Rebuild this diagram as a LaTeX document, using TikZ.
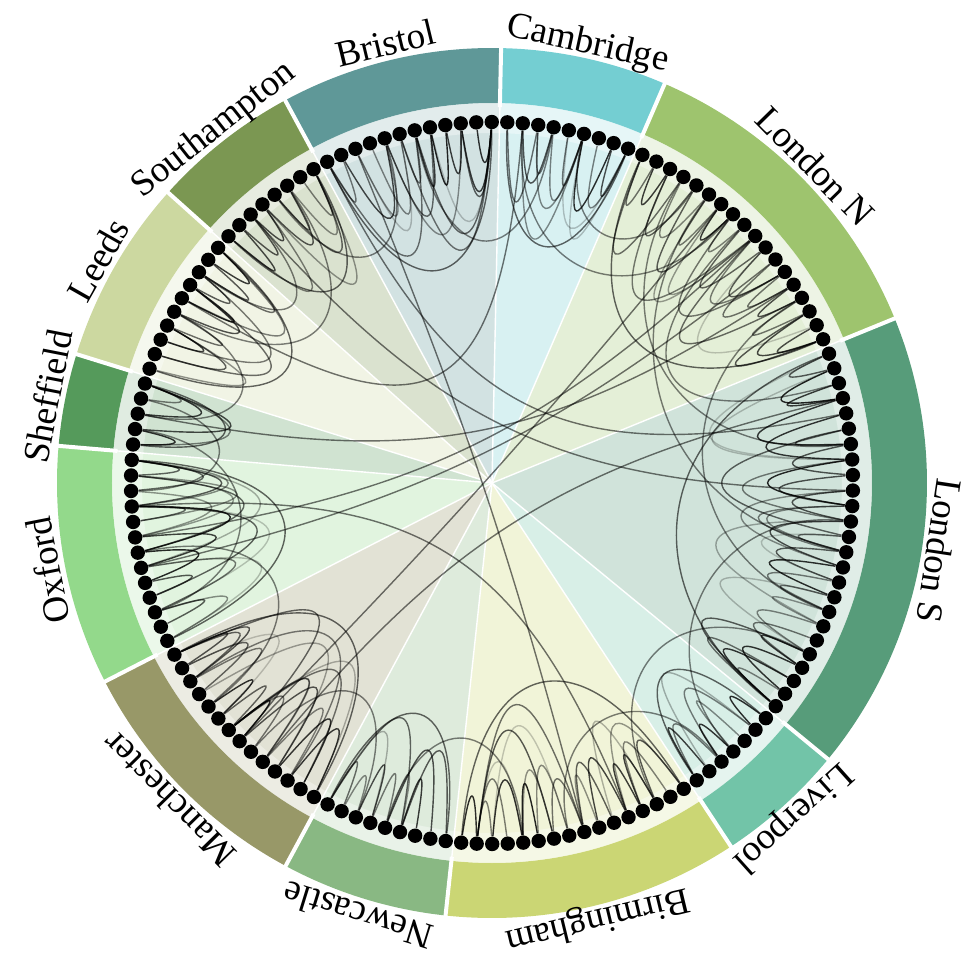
\documentclass[tikz,border=0pt]{standalone}
\usepackage{fontspec}
\setmainfont{Liberation Serif}
\usetikzlibrary{calc}

\definecolor{cambridge}{HTML}{74CED2}
\definecolor{londonN}{HTML}{9EC46E}
\definecolor{londonS}{HTML}{579C7A}
\definecolor{liverpool}{HTML}{72C4A8}
\definecolor{birmingham}{HTML}{CBD674}
\definecolor{newcastle}{HTML}{89B883}
\definecolor{manchester}{HTML}{989868}
\definecolor{oxford}{HTML}{93D98B}
\definecolor{sheffield}{HTML}{559A5B}
\definecolor{leeds}{HTML}{CCD8A0}
\definecolor{southampton}{HTML}{7B9752}
\definecolor{bristol}{HTML}{5F9898}

\begin{document}
\begin{tikzpicture}[x=0.5pt,y=0.5pt]
\tikzstyle{every node}+=[inner sep=0pt]
\tikzstyle{dot}=[circle,fill=black,minimum size=7.2pt]
\tikzstyle{edge}=[black,line width=0.7pt]
\tikzstyle{city}=[anchor=base,font=\fontsize{18.5}{20}\selectfont]
\useasboundingbox (-492,-477) rectangle (473,483);
\coordinate (ctr) at (0,0);
\pgfmathsetmacro{\stp}{360/146}
\foreach \s/\n/\col in {0/9/cambridge,9/18/londonN,27/25/londonS,52/7/liverpool,59/16/birmingham,75/9/newcastle,84/14/manchester,98/13/oxford,111/5/sheffield,116/10/leeds,126/8/southampton,134/12/bristol} {
\pgfmathsetmacro{\ta}{88.8-\s*\stp}
\pgfmathsetmacro{\tb}{\ta-\n*\stp}
\fill [\col,opacity=0.28] (ctr) -- (\ta:380) arc[start angle=\ta,end angle=\tb,radius=380] -- cycle;
\fill [\col] (\ta:380) arc[start angle=\ta,end angle=\tb,radius=380] -- (\tb:435) arc[start angle=\tb,end angle=\ta,radius=435] -- cycle;
}
\fill [white,opacity=0.35,even odd rule] (ctr) circle[radius=380] (ctr) circle[radius=350];
\foreach \k in {0,9,27,52,59,75,84,98,111,116,126,134} {
\pgfmathsetmacro{\ta}{88.8-\k*\stp}
\draw [white,line width=0.7pt] (ctr) -- (\ta:380);
\draw [white,line width=2pt] (\ta:376) -- (\ta:438);
}
\foreach \m/\nm/\txt in {12.30/cam/Cambridge,45.58/lnn/London N,98.60/lns/London S,138.05/liv/Liverpool,166.41/bir/Birmingham,197.23/new/Newcastle,225.58/man/Manchester,258.87/oxf/Oxford,281.06/she/Sheffield,299.56/lee/Leeds,321.75/sou/Southampton,346.41/bri/Bristol}
\node [city,rotate=-\m] (l\nm) at ({90-\m}:440) {\txt};
\foreach \k in {0,...,145} \node [dot] (d\k) at ({88.8-(\k+0.5)*\stp}:361) {};
\pgfmathsetseed{11}
\foreach \s/\n in {0/9,9/18,27/25,52/7,59/16,75/9,84/14,98/13,111/5,116/10,126/8,134/12} {
\pgfmathtruncatemacro{\e}{\s+\n-1}
\foreach \i in {\s,...,\e} {
\pgfmathtruncatemacro{\jj}{min(\i+1+int(2.6*rnd),\e)}
\pgfmathsetmacro{\f}{1-(26+24*(\jj-\i)+30*rnd)/361}
\pgfmathsetmacro{\op}{0.4+0.45*rnd}
\ifnum\jj>\i\relax
\coordinate (pa) at ($(d\i)!0.3!(d\jj)$);
\coordinate (pb) at ($(d\jj)!0.3!(d\i)$);
\draw [edge,draw opacity=\op] (d\i) .. controls ($(ctr)!\f!(pa)$) and ($(ctr)!\f!(pb)$) .. (d\jj);
\fi
}
\foreach \i in {\s,...,\e} {
\pgfmathtruncatemacro{\jj}{min(\i+3+int(5*rnd),\e)}
\pgfmathsetmacro{\f}{1-min(55+15*(\jj-\i)+40*rnd,190)/361}
\pgfmathsetmacro{\op}{0.2+0.45*rnd}
\pgfmathtruncatemacro{\pk}{int(2.2*rnd)}
\ifnum\jj>\numexpr\i+1\relax\ifnum\pk=0
\coordinate (pa) at ($(d\i)!0.25!(d\jj)$);
\coordinate (pb) at ($(d\jj)!0.25!(d\i)$);
\draw [edge,draw opacity=\op] (d\i) .. controls ($(ctr)!\f!(pa)$) and ($(ctr)!\f!(pb)$) .. (d\jj);
\fi\fi
}
\pgfmathsetmacro{\f}{1-min(70+9*\n,190)/361}
\draw [edge,draw opacity=0.6] (d\s) .. controls ($(ctr)!\f!(d\s)$) and ($(ctr)!\f!(d\e)$) .. (d\e);
}
\foreach \i/\jj/\dd in {1/16/150,5/13/110,12/33/175,17/29/190,23/44/165,14/40/185,38/55/140,47/61/150,56/67/120,70/79/130,81/89/140,86/95/175,93/104/150,100/112/130,108/114/110,113/120/120,123/128/120,130/138/130,120/131/160,140/3/150} {
\pgfmathsetmacro{\f}{1-\dd/361}
\draw [edge,draw opacity=0.5] (d\i) .. controls ($(ctr)!\f!(d\i)$) and ($(ctr)!\f!(d\jj)$) .. (d\jj);
}
\foreach \i/\jj in {128/36,136/66,134/31,103/20,105/18,113/22,90/15,88/30,1/121,107/63} {
\draw [edge,draw opacity=0.55] (d\i) .. controls ($(ctr)!0.2!(d\i)$) and ($(ctr)!0.2!(d\jj)$) .. (d\jj);
}
\end{tikzpicture}
\end{document}
